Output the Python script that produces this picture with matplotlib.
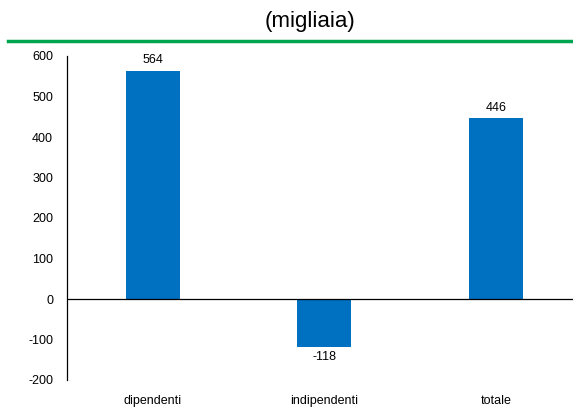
import matplotlib
matplotlib.use("Agg")
import matplotlib.pyplot as plt
from matplotlib.lines import Line2D

plt.rcParams['font.family'] = ['Liberation Sans', 'DejaVu Sans']

categories = ["dipendenti", "indipendenti", "totale"]
values = [564, -118, 446]
y_ticks = [-200, -100, 0, 100, 200, 300, 400, 500, 600]

fig = plt.figure(figsize=(5.73, 4.08), dpi=100)
ax = fig.add_axes([67 / 573, 28 / 408, 1 - 67 / 573, (380 - 56) / 408])

x = list(range(len(categories)))
bars = ax.bar(x, values, width=0.315, color="#0070C0")

for xi, v in zip(x, values):
    if v >= 0:
        ax.annotate(str(v), (xi, v), xytext=(0, 3), textcoords="offset points",
                    ha="center", va="bottom", fontsize=9)
    else:
        ax.annotate(str(v), (xi, v), xytext=(0, -3), textcoords="offset points",
                    ha="center", va="top", fontsize=9)

ax.set_xlim(-0.5, 2.45)
ax.set_ylim(-200, 600)
ax.set_yticks(y_ticks)
ax.set_yticklabels([str(t) for t in y_ticks], fontsize=9)
ax.set_xticks(x)
ax.set_xticklabels(categories, fontsize=9)
ax.tick_params(axis="y", length=0, pad=10)
ax.tick_params(axis="x", length=0, pad=11)

ax.axhline(0, color="black", linewidth=0.9)
for s in ["top", "right", "bottom"]:
    ax.spines[s].set_visible(False)
ax.spines["left"].set_linewidth(0.9)

fig.text(310 / 573, 1 - 21 / 408, "(migliaia)", ha="center", va="center", fontsize=16)
fig.add_artist(Line2D([8 / 573, 1.0], [1 - 41 / 408, 1 - 41 / 408],
                      color="#00A550", linewidth=2.5, transform=fig.transFigure))

fig.savefig("out.png", dpi=100)
